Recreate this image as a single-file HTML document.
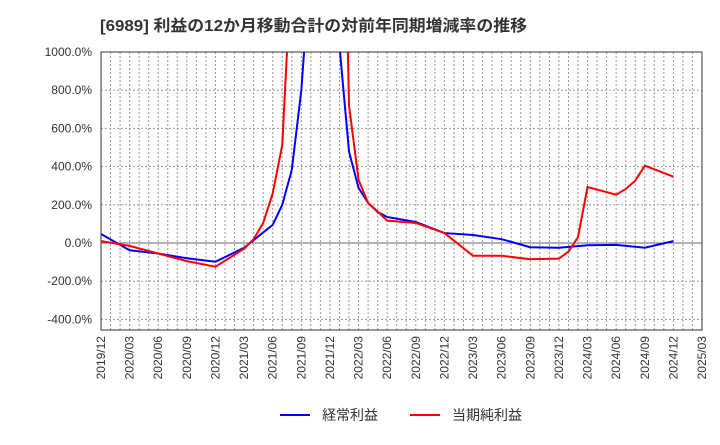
<!DOCTYPE html>
<html><head><meta charset="utf-8"><style>
body{margin:0;background:#fff;}
svg{font-family:"Liberation Sans","Noto Sans CJK JP",sans-serif;}
</style></head><body>
<svg id="c" width="720" height="440"></svg>
<script>
const xTickLabels=["2019/12","2020/03","2020/06","2020/09","2020/12","2021/03","2021/06","2021/09","2021/12","2022/03","2022/06","2022/09","2022/12","2023/03","2023/06","2023/09","2023/12","2024/03","2024/06","2024/09","2024/12","2025/03"];
const yTicks=[1000,800,600,400,200,0,-200,-400];
const ordinaryMonths=["2019/12","2020/03","2020/06","2020/09","2020/12","2021/03","2021/06","2021/07","2021/08","2021/09","2021/10","2021/11","2021/12","2022/01","2022/02","2022/03","2022/04","2022/05","2022/06","2022/09","2022/12","2023/03","2023/06","2023/09","2023/12","2024/03","2024/06","2024/09","2024/12"];
const ordinaryValues=[47,-38,-55,-80,-98,-25,95,200,383,800,1500,3000,3000,1030,478,288,210,162,136,110,52,42,20,-22,-25,-12,-10,-25,10];
const netMonths=["2019/12","2020/03","2020/06","2020/09","2020/12","2021/03","2021/04","2021/05","2021/06","2021/07","2021/08","2021/09","2021/12","2022/01","2022/02","2022/03","2022/04","2022/05","2022/06","2022/09","2022/12","2023/03","2023/06","2023/09","2023/12","2024/01","2024/02","2024/03","2024/06","2024/07","2024/08","2024/09","2024/12"];
const netValues=[10,-15,-55,-95,-124,-30,20,105,260,513,1500,3000,3000,3000,720,330,210,165,117,105,52,-67,-67,-85,-82,-45,30,293,253,283,326,405,347];

const NS="http://www.w3.org/2000/svg";
const svg=document.getElementById('c');
const L=101,R=702,T=52,B=330;
function mIdx(s){const [y,m]=s.split('/').map(Number);return (y-2019)*12+(m-12);}
function xs(s){return L+mIdx(s)*(R-L)/63;}
function ys(v){return 243-v*0.191;}
function el(t,a,p){const e=document.createElementNS(NS,t);for(const k in a)e.setAttribute(k,a[k]);(p||svg).appendChild(e);return e;}

const title=el('text',{x:100,y:31,'font-size':16,'font-weight':'bold',fill:'#333',textLength:427,lengthAdjust:'spacingAndGlyphs'});


title.textContent='[6989]  利益の12か月移動合計の対前年同期増減率の推移';

const grid=el('g',{});


for(let i=0;i<=63;i++){const x=L+i*(R-L)/63;el('line',{x1:x,x2:x,y1:T,y2:B,stroke:'#999','stroke-dasharray':'2,2','stroke-width':1},grid);}
yTicks.forEach(v=>{const y=ys(v);el('line',{x1:L,x2:R,y1:y,y2:y,stroke:v===0?'#666':'#999','stroke-dasharray':v===0?'':'2,2','stroke-width':1},grid);
const t=el('text',{x:92,y:y+4,'font-size':12,'text-anchor':'end',fill:'#333'});


t.textContent=v.toFixed(1)+'%';});
xTickLabels.forEach(s=>{const x=xs(s);const t=el('text',{x:0,y:0,'font-size':12,'text-anchor':'end',fill:'#333',transform:`translate(${x+4},336) rotate(-90)`});


t.textContent=s;});
const frame=el('rect',{x:L,y:T,width:R-L,height:B-T,fill:'none',stroke:'#333'});


const cp=el('clipPath',{id:'cp'});
el('rect',{x:L,y:T,width:R-L,height:B-T},cp);
function series(m,v,c,n){const p=el('polyline',{points:m.map((s,i)=>xs(s)+','+ys(v[i])).join(' '),fill:'none',stroke:c,'stroke-width':2,'clip-path':'url(#cp)'});

}
series(ordinaryMonths,ordinaryValues,'#0000ff','ordinary-profit-line');
series(netMonths,netValues,'#ff0000','net-profit-line');
function legend(x,c,txt,n){const g=el('g',{});


el('line',{x1:x,x2:x+30,y1:415,y2:415,stroke:c,'stroke-width':2},g);
const t=el('text',{x:x+42,y:420,'font-size':14,fill:'#333'},g);t.textContent=txt;}
legend(280,'#0000ff','経常利益','legend-ordinary-profit');
legend(410,'#ff0000','当期純利益','legend-net-profit');
</script>
</body></html>
